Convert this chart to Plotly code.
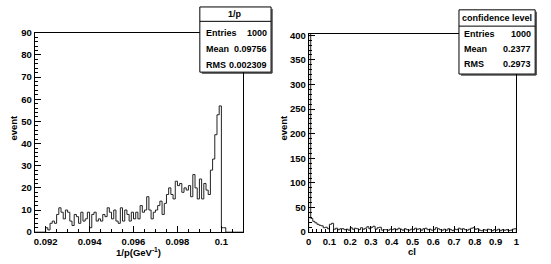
import numpy as np
import plotly.graph_objects as go

# ---------------- data ----------------
# left histogram: 1/p
p_bin_start = 0.0915
p_bin_width = 0.0001
p_counts = [0, 0, 0, 0, 0,
            2, 1, 4, 5, 4, 8, 11, 9, 6, 10,
            9, 5, 3, 8, 7, 4, 9, 5, 6, 9,
            2, 8, 9, 5, 6, 5, 8, 7, 11, 9,
            6, 10, 5, 4, 11, 5, 10, 8, 5, 9,
            6, 9, 6, 12, 9, 10, 16, 10, 6, 9,
            10, 12, 14, 8, 13, 17, 20, 17, 15, 23,
            21, 22, 18, 20, 19, 21, 16, 26, 20, 15,
            24, 15, 22, 19, 17, 28, 33, 44, 53, 57,
            2, 2, 0, 0, 0, 0, 0, 0, 0, 0]
p_xticks = [0.092, 0.094, 0.096, 0.098, 0.1]
p_xticktext = ["0.092", "0.094", "0.096", "0.098", "0.1"]

# right histogram: confidence level
cl_bin_start = 0.0
cl_bin_width = 0.01
cl_counts = [420, 28, 22, 19, 16, 14, 13, 9, 10, 7,
             16, 18, 6, 8, 5, 7, 7, 5, 6, 4,
             9, 6, 8, 7, 5, 9, 6, 8, 11, 7,
             10, 12, 6, 9, 10, 4, 5, 5, 4, 6,
             5, 7, 5, 8, 6, 4, 7, 5, 4, 6,
             5, 8, 6, 7, 4, 7, 8, 5, 6, 4,
             5, 9, 7, 5, 4, 6, 4, 7, 5, 3,
             6, 5, 8, 6, 7, 5, 4, 6, 8, 9,
             6, 7, 4, 3, 5, 4, 6, 5, 3, 5,
             4, 6, 3, 5, 4, 5, 3, 4, 6, 7]
cl_xticks = [0, 0.1, 0.2, 0.3, 0.4, 0.5, 0.6, 0.7, 0.8, 0.9, 1]
cl_xticktext = ["0", "0.1", "0.2", "0.3", "0.4", "0.5", "0.6", "0.7", "0.8", "0.9", "1"]

stats_p = {"title": "1/p", "rows": [("Entries", "1000"), ("Mean", "0.09756"), ("RMS", "0.002309")]}
stats_cl = {"title": "confidence level", "rows": [("Entries", "1000"), ("Mean", "0.2377"), ("RMS", "0.2973")]}

# ---------------- helpers ----------------
W, H = 551, 264
FONT = "Liberation Sans"


def px(x):
    return x / W


def py(y):
    return 1 - y / H


def step_xy(start, width, counts):
    counts = np.asarray(counts, dtype=float)
    edges = start + width * np.arange(len(counts) + 1)
    xs = np.concatenate([[edges[0]], edges[:-1], [edges[-1]]])
    ys = np.concatenate([[0.0], counts, [0.0]])
    return xs, ys


def bfont(size=10):
    return dict(family=FONT, size=size, color="black", weight="bold")


fig = go.Figure()

x1, y1 = step_xy(p_bin_start, p_bin_width, p_counts)
fig.add_trace(go.Scatter(x=x1, y=y1, mode="lines", line=dict(color="#222", width=1, shape="hv"),
                         xaxis="x", yaxis="y", showlegend=False, hoverinfo="skip"))
x2, y2 = step_xy(cl_bin_start, cl_bin_width, cl_counts)
fig.add_trace(go.Scatter(x=x2, y=y2, mode="lines", line=dict(color="#222", width=1, shape="hv"),
                         xaxis="x2", yaxis="y2", showlegend=False, hoverinfo="skip"))

common = dict(showline=True, linecolor="black", linewidth=1, mirror=True, showgrid=False,
              zeroline=False, ticks="inside", tickcolor="black", tickfont=bfont(9.5))

p_n = len(p_counts)
fig.update_layout(
    width=W, height=H, margin=dict(l=0, r=0, t=0, b=0),
    paper_bgcolor="white", plot_bgcolor="white",
    xaxis=dict(domain=[px(32), px(243)], range=[p_bin_start, p_bin_start + p_n * p_bin_width],
               tickvals=p_xticks, ticktext=p_xticktext, ticklen=6, anchor="y", ticklabelstandoff=0,
               minor=dict(ticks="inside", ticklen=3, dtick=0.0005, tickcolor="black"), **common),
    yaxis=dict(domain=[py(236), py(28)], range=[0, 90], dtick=10, ticklen=6, anchor="x",
               minor=dict(ticks="inside", ticklen=3, dtick=2, tickcolor="black"), **common),
    xaxis2=dict(domain=[px(309), px(519)], range=[0, 1], tickvals=cl_xticks, ticktext=cl_xticktext,
                ticklen=6, anchor="y2", ticklabelstandoff=0,
                minor=dict(ticks="inside", ticklen=3, dtick=0.02, tickcolor="black"), **common),
    yaxis2=dict(domain=[py(236), py(29)], range=[0, 403], dtick=50, ticklen=6, anchor="x2",
                minor=dict(ticks="inside", ticklen=3, dtick=10, tickcolor="black"), **common),
)

ann = []
shapes = []


def text_at(x, y, text, size=10, xanchor="center", angle=0):
    ann.append(dict(x=px(x), y=py(y), xref="paper", yref="paper", text=text, textangle=angle,
                    xanchor=xanchor, yanchor="middle", showarrow=False, font=bfont(size)))


# axis titles
text_at(11, 127, "event", size=9.5, angle=-90)
text_at(284, 127, "event", size=9.5, angle=-90)
text_at(137, 256.5, "1/p(GeV<sup>-1</sup>)", size=9.5)
text_at(414, 256, "cl", size=9.5)


def stat_box(stats, x0, x1, y0, y1, yhead, ytitle, rows_y, xl, xr):
    shapes.append(dict(type="rect", xref="paper", yref="paper", x0=px(x0), x1=px(x1), y0=py(y1), y1=py(y0),
                       fillcolor="white", line=dict(color="black", width=1), layer="above"))
    # shadow
    shapes.append(dict(type="line", xref="paper", yref="paper", x0=px(x1 + 1), x1=px(x1 + 1),
                       y0=py(y0 + 2), y1=py(y1 + 1), line=dict(color="black", width=1), layer="above"))
    shapes.append(dict(type="line", xref="paper", yref="paper", x0=px(x0 + 2), x1=px(x1 + 1),
                       y0=py(y1 + 1), y1=py(y1 + 1), line=dict(color="black", width=1), layer="above"))
    shapes.append(dict(type="line", xref="paper", yref="paper", x0=px(x0), x1=px(x1),
                       y0=py(yhead), y1=py(yhead), line=dict(color="black", width=1), layer="above"))
    text_at((x0 + x1) / 2, ytitle, stats["title"], size=9)
    for (lab, val), yy in zip(stats["rows"], rows_y):
        text_at(xl, yy, lab, size=9, xanchor="left")
        text_at(xr, yy, val, size=9, xanchor="right")


stat_box(stats_p, 199, 271, 1, 69, 16, 8.5, [28, 45, 62], 203, 269)
stat_box(stats_cl, 461, 538, 4, 71, 21, 12.5, [29, 45, 61], 464, 536)

fig.update_layout(annotations=ann, shapes=shapes, font=dict(family=FONT, color="black"))

fig.write_html("out.html", config={"displayModeBar": False},
               post_script="document.body.style.margin='0';document.body.style.padding='0';")
